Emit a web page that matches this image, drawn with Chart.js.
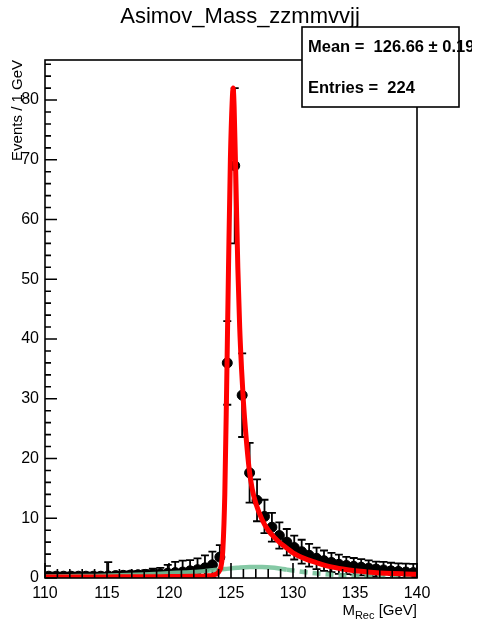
<!DOCTYPE html>
<html>
<head>
<meta charset="utf-8">
<script src="https://cdn.jsdelivr.net/npm/chart.js@4.4.1/dist/chart.umd.min.js"></script>
<style>
  html, body { margin: 0; padding: 0; background: #fff; }
  #wrap { width: 481px; height: 620px; }
</style>
</head>
<body>
<div id="wrap"><canvas id="mass-chart" width="481" height="620"></canvas></div>
<script>
// ── Asimov data, 0.6 GeV bins ──
const binCenters = [
  110.3, 110.9, 111.5, 112.1, 112.7, 113.3, 113.9, 114.5, 115.1, 115.7,
  116.3, 116.9, 117.5, 118.1, 118.7, 119.3, 119.9, 120.5, 121.1, 121.7,
  122.3, 122.9, 123.5, 124.1, 124.7, 125.3, 125.9, 126.5, 127.1, 127.7,
  128.3, 128.9, 129.5, 130.1, 130.7, 131.3, 131.9, 132.5, 133.1, 133.7,
  134.3, 134.9, 135.5, 136.1, 136.7, 137.3, 137.9, 138.5, 139.1, 139.7
];
const binValues = [
  0.3, 0.3, 0.3, 0.3, 0.3, 0.3, 0.3, 0.3, 0.35, 0.4,
  0.45, 0.5, 0.55, 0.6, 0.65, 0.7, 0.8, 0.9, 1.0, 1.2,
  1.4, 1.7, 2.2, 3.5, 36, 69, 30.6, 17.6, 13.0, 10.3,
  8.5, 7.1, 6.0, 5.1, 4.4, 3.8, 3.3, 2.9, 2.6, 2.3,
  2.1, 1.95, 1.8, 1.65, 1.5, 1.35, 1.2, 1.1, 1.0, 0.9
];
const binErrors = [
  0.6, 0.6, 0.6, 0.6, 0.6, 0.6, 0.6, 0.6, 2.3, 0.6,
  0.6, 0.6, 0.6, 0.7, 0.9, 1.0, 1.4, 1.8, 1.9, 1.8,
  1.9, 2.1, 2.2, 2.0, 7, 13, 7, 5, 3.5, 2.8,
  2.4, 2.2, 2.2, 2.0, 2.0, 1.9, 1.8, 1.7, 1.6, 1.6,
  1.45, 1.4, 1.35, 1.3, 1.25, 1.35, 1.35, 1.35, 1.4, 1.45
];

// ── total fit (red) ──
const fitX = [110, 112, 114, 116, 118, 120, 122, 123, 123.6, 124.0, 124.2, 124.35, 124.5, 124.65, 124.8,
  124.95, 125.1, 125.17, 125.25, 125.4, 125.55, 125.7, 125.85, 126.0, 126.2, 126.45, 126.7, 127.0, 127.5,
  128.0, 128.5, 129.0, 129.5, 130.0, 131, 132, 133, 134, 135, 136, 137, 138, 139, 140];
const fitY = [0.15, 0.15, 0.15, 0.2, 0.2, 0.25, 0.3, 0.35, 0.5, 1.0, 2, 5, 14, 32, 52,
  70, 80, 82, 79, 66, 52, 42, 35, 29.5, 24, 18.5, 15, 12.5, 9.8,
  8.0, 6.8, 5.8, 5.0, 4.2, 3.2, 2.5, 1.9, 1.5, 1.2, 1.0, 0.85, 0.75, 0.68, 0.62];

// ── background component (green) ──
const bkgX = [110, 112, 114, 116, 118, 120, 122, 123.5, 124.5, 125.5, 126.5, 127.5, 128.5, 129.5,
  130.5, 131.5, 132.5, 134, 136, 138, 140];
const bkgY = [0.25, 0.3, 0.35, 0.45, 0.6, 0.8, 1.0, 1.3, 1.5, 1.7, 1.85, 1.85, 1.7, 1.4,
  1.1, 0.85, 0.65, 0.45, 0.3, 0.25, 0.2];

const xTicks = [110, 115, 120, 125, 130, 135, 140];
const yTicks = [0, 10, 20, 30, 40, 50, 60, 70, 80];

const FONT = '"Liberation Sans", Arial, Helvetica, sans-serif';

// error bars go under the markers of the data set
const errorBars = {
  id: 'errorBars',
  beforeDatasetDraw(chart, args) {
    if (args.index !== 0) return;
    const { ctx, chartArea: a, scales: { x, y } } = chart;
    const half = (binCenters[1] - binCenters[0]) / 2;
    ctx.save();
    ctx.beginPath();
    ctx.rect(a.left, a.top, a.right - a.left, a.bottom - a.top);
    ctx.clip();
    ctx.strokeStyle = '#000';
    ctx.lineWidth = 1.8;
    binCenters.forEach((c, i) => {
      const px = x.getPixelForValue(c);
      const py = y.getPixelForValue(binValues[i]);
      const top = y.getPixelForValue(binValues[i] + binErrors[i]);
      const bot = y.getPixelForValue(Math.max(0, binValues[i] - binErrors[i]));
      ctx.beginPath();
      ctx.moveTo(x.getPixelForValue(c - half), py);
      ctx.lineTo(x.getPixelForValue(c + half), py);
      ctx.moveTo(px, top);
      ctx.lineTo(px, bot);
      ctx.moveTo(px - 4, top);
      ctx.lineTo(px + 4, top);
      ctx.moveTo(px - 4, bot);
      ctx.lineTo(px + 4, bot);
      ctx.stroke();
    });
    ctx.restore();
  }
};

// ROOT-like frame: inward ticks, labels, titles and stats box
const rootFrame = {
  id: 'rootFrame',
  afterDraw(chart) {
    const { ctx, chartArea: a, scales: { x, y } } = chart;
    ctx.save();
    ctx.strokeStyle = '#000';
    ctx.fillStyle = '#000';
    ctx.lineWidth = 1.6;
    ctx.strokeRect(a.left, a.top, a.right - a.left, a.bottom - a.top);

    // x ticks
    ctx.beginPath();
    for (let v = x.min; v <= x.max + 1e-6; v += 1) {
      const px = x.getPixelForValue(v);
      const len = (v % 5 === 0) ? 15 : 9;
      ctx.moveTo(px, a.bottom);
      ctx.lineTo(px, a.bottom - len);
    }
    // y ticks
    for (let v = 0; v <= y.max; v += 2) {
      const py = y.getPixelForValue(v);
      const len = (v % 10 === 0) ? 12 : 6;
      ctx.moveTo(a.left, py);
      ctx.lineTo(a.left + len, py);
    }
    ctx.stroke();

    ctx.font = '16px ' + FONT;
    ctx.textAlign = 'center';
    ctx.textBaseline = 'middle';
    xTicks.forEach(v => ctx.fillText(String(v), x.getPixelForValue(v), a.bottom + 16));
    ctx.textAlign = 'right';
    yTicks.forEach(v => ctx.fillText(String(v), a.left - 6, y.getPixelForValue(v)));

    // axis titles
    ctx.save();
    ctx.translate(18, a.top);
    ctx.rotate(-Math.PI / 2);
    ctx.font = '15px ' + FONT;
    ctx.textAlign = 'right';
    ctx.textBaseline = 'middle';
    ctx.fillText('Events / 1 GeV', 0, 0);
    ctx.restore();

    ctx.textBaseline = 'alphabetic';
    ctx.textAlign = 'left';
    const part3 = ' [GeV]';
    ctx.font = '11px ' + FONT;
    const wSub = ctx.measureText('Rec').width;
    ctx.font = '15px ' + FONT;
    const w3 = ctx.measureText(part3).width;
    const wM = ctx.measureText('M').width;
    const tx = a.right - w3 - wSub - wM;
    ctx.fillText('M', tx, 615);
    ctx.font = '11px ' + FONT;
    ctx.fillText('Rec', tx + wM, 619);
    ctx.font = '15px ' + FONT;
    ctx.fillText(part3, tx + wM + wSub, 615);

    // title
    ctx.font = '22px ' + FONT;
    ctx.textAlign = 'center';
    ctx.textBaseline = 'middle';
    ctx.fillText('Asimov_Mass_zzmmvvjj', 240, 17);

    // stats box
    ctx.fillStyle = '#fff';
    ctx.fillRect(302, 27, 157, 80);
    ctx.strokeRect(302, 27, 157, 80);
    ctx.beginPath();
    ctx.rect(0, 0, 472, 620);
    ctx.clip();
    ctx.fillStyle = '#000';
    ctx.font = 'bold 16.5px ' + FONT;
    ctx.textAlign = 'left';
    ctx.fillText('Mean =  126.66 \u00b1 0.19', 308, 47);
    ctx.fillText('Entries =  224', 308, 88);
    ctx.restore();
  }
};

new Chart(document.getElementById('mass-chart'), {
  type: 'line',
  data: {
    datasets: [
      {
        label: 'Asimov data',
        data: binCenters.map((c, i) => ({ x: c, y: binValues[i] })),
        showLine: false,
        pointRadius: 5,
        pointBackgroundColor: '#000',
        pointBorderColor: '#000',
        order: 3
      },
      {
        label: 'background',
        data: bkgX.map((v, i) => ({ x: v, y: bkgY[i] })),
        borderColor: 'rgba(120,195,155,0.9)',
        borderWidth: 4.5,
        pointRadius: 0,
        cubicInterpolationMode: 'monotone',
        segment: { borderDash: s => (s.p0.parsed.x >= 129.5 ? [8, 5] : undefined) },
        order: 2
      },
      {
        label: 'total fit',
        data: fitX.map((v, i) => ({ x: v, y: fitY[i] })),
        borderColor: '#ff0000',
        borderWidth: 5,
        pointRadius: 0,
        cubicInterpolationMode: 'monotone',
        order: 1
      }
    ]
  },
  options: {
    responsive: false,
    animation: false,
    layout: { padding: { left: 45, right: 64, top: 60, bottom: 42 } },
    plugins: { legend: { display: false }, tooltip: { enabled: false } },
    scales: {
      x: { type: 'linear', min: 110, max: 140, display: false },
      y: { type: 'linear', min: 0, max: 86.7, display: false }
    }
  },
  plugins: [errorBars, rootFrame]
});
</script>
</body>
</html>
